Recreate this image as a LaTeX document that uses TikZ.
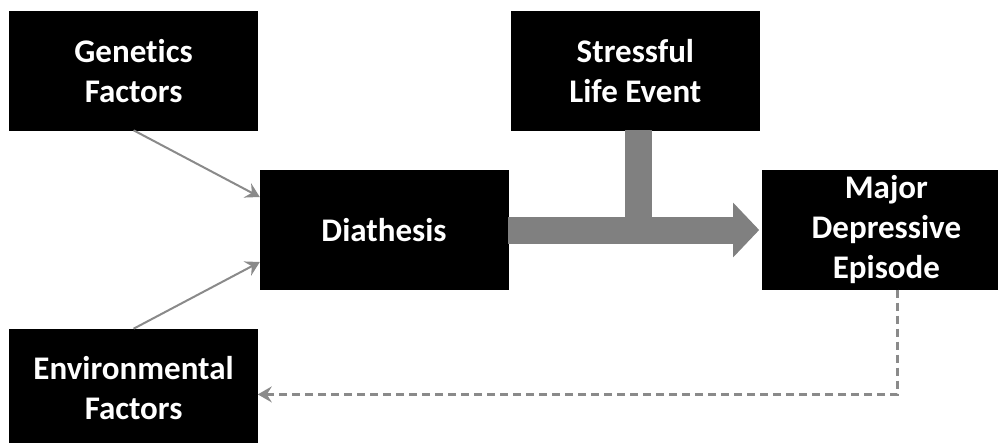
\documentclass[tikz,border=0pt]{standalone}
\usepackage{fontspec}
\setmainfont{Carlito}[Ligatures = NoCommon]
\usepackage{tikz}
\usetikzlibrary{arrows.meta,positioning}
\definecolor{arrowgray}{HTML}{8A8A8A}
\definecolor{bandgray}{HTML}{808080}

\begin{document}
\begin{tikzpicture}[x = 1pt, y = 1pt]
        \tikzstyle{factor} = [rectangle, draw = black, fill = black, text = white, align = center, inner sep = 0pt, font = \fontsize{33}{40}\selectfont\bfseries, minimum width = 248pt, minimum height = 119pt]
        \tikzstyle{link} = [draw = arrowgray, line width = 2pt, -{Stealth[length = 14pt, width = 16pt, inset = 5pt]}]
        \useasboundingbox (0,0) rectangle (998,-442);
        \node at (384,-230) (diathesis) [factor] {Diathesis};
        \node (genetics) [factor, above left = 40pt and 2pt of diathesis] {Genetics \\ Factors};
        \node (environment) [factor, below left = 39pt and 2pt of diathesis] {Environmental \\ Factors};
        \node (stress) [factor, above right = 40pt and 3pt of diathesis] {Stressful \\ Life Event};
        \node (episode) [factor, right = 254pt of diathesis] {Major \\ Depressive \\ Episode};
        \draw [link] (genetics.south) -- ([yshift = 33pt]diathesis.west);
        \draw [link] (environment.north) -- ([yshift = -32pt]diathesis.west);
        \draw [bandgray, line width = 27pt] ([xshift = 3.5pt]stress.south) -- ([xshift = 3.5pt]stress.south |- diathesis);
        \draw [bandgray, line width = 27pt, -{Triangle[length = 26pt, width = 53pt]}, shorten > = 3pt] (diathesis) -- (episode);
        \draw [link, line width = 2.5pt, dash pattern = on 8pt off 5pt] ([xshift = 11pt]episode.south) |- ([yshift = -6pt]environment.east);
    \end{tikzpicture}
\end{document}
